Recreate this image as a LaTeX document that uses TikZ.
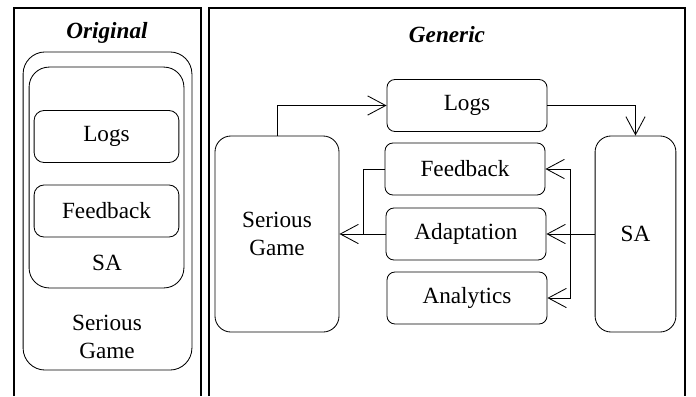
\documentclass[tikz,border=0pt]{standalone}
\usepackage{fontspec}
\setmainfont{Liberation Serif}
\usetikzlibrary{arrows.meta}

\tikzset{
  box/.style={draw, rounded corners=0.2cm, minimum width=4cm, minimum height=1.3cm, inner sep=0pt},
  bigbox/.style={draw, rounded corners=0.4cm, inner sep=0pt},
  arr/.style={-{Straight Barb[length=4.5mm,width=4.8mm]}},
  title/.style={font=\fontsize{16.5}{19.5}\selectfont\bfseries\itshape}
}

\begin{document}
\begin{tikzpicture}[x=0.025cm, y=-0.025cm, line width=0.6pt,
    font=\fontsize{16.5}{19.5}\selectfont]

      \useasboundingbox (0,0) rectangle (696,396);

      % panels
      \draw[line width=0.8pt] (14,396) -- (14,8) -- (201,8) -- (201,396);
      \draw[line width=0.8pt] (209,396) -- (209,8) -- (685,8) -- (685,396);
      \node[title] (orig) at (107,33) {Original};
      \node[title] (gen)  at (447,35) {Generic};

      % original
      \begin{scope}[every node/.append style={transform shape}]
        \node[bigbox, rounded corners=0.55cm, minimum width=4.22cm, minimum height=7.95cm] (sgorig) at (107.5,211) {};
        \node[bigbox, rounded corners=0.5cm, minimum width=3.87cm, minimum height=5.52cm] (saorig) at (106.5,177.5) {};
        \node[box, minimum width=3.62cm, rounded corners=0.25cm] (logsorig) at (106.5,136.5) {Logs};
        \node[box, minimum width=3.62cm, rounded corners=0.25cm] (fborig)   at (106.5,211) {Feedback};
        \node (satext) at (107,263) {SA};
        \node[align=center] (sgtext) at (107,337) {Serious\\Game};
      \end{scope}

      % generic
      \node[box] (logs)  at (467,105.5) {Logs};
      \node[box] (fb)    at (465,169) {Feedback};
      \node[box] (adapt) at (466,234) {Adaptation};
      \node[box] (anal)  at (467,298) {Analytics};
      \node[bigbox, minimum width=3.1cm, minimum height=4.9cm, align=center] (sg) at (277,234) {Serious\\Game};
      \node[bigbox, minimum width=2.02cm, minimum height=4.9cm] (sa) at (635.5,234) {SA};

      \coordinate (jl) at (363,234);
      \coordinate (jr) at (570,234);

      \draw[arr] (sg.north) |- (logs.west);
      \draw[arr] (logs.east) -| (sa.north);
      \draw[arr] (adapt.west) -- (sg.east);
      \draw (fb.west) -| (jl);
      \draw (sa.west) -- (jr);
      \draw[arr] (jr) -- (adapt.east);
      \draw[arr] (jr) |- (fb.east);
      \draw[arr] (jr) |- (anal.east);

    \end{tikzpicture}
\end{document}
